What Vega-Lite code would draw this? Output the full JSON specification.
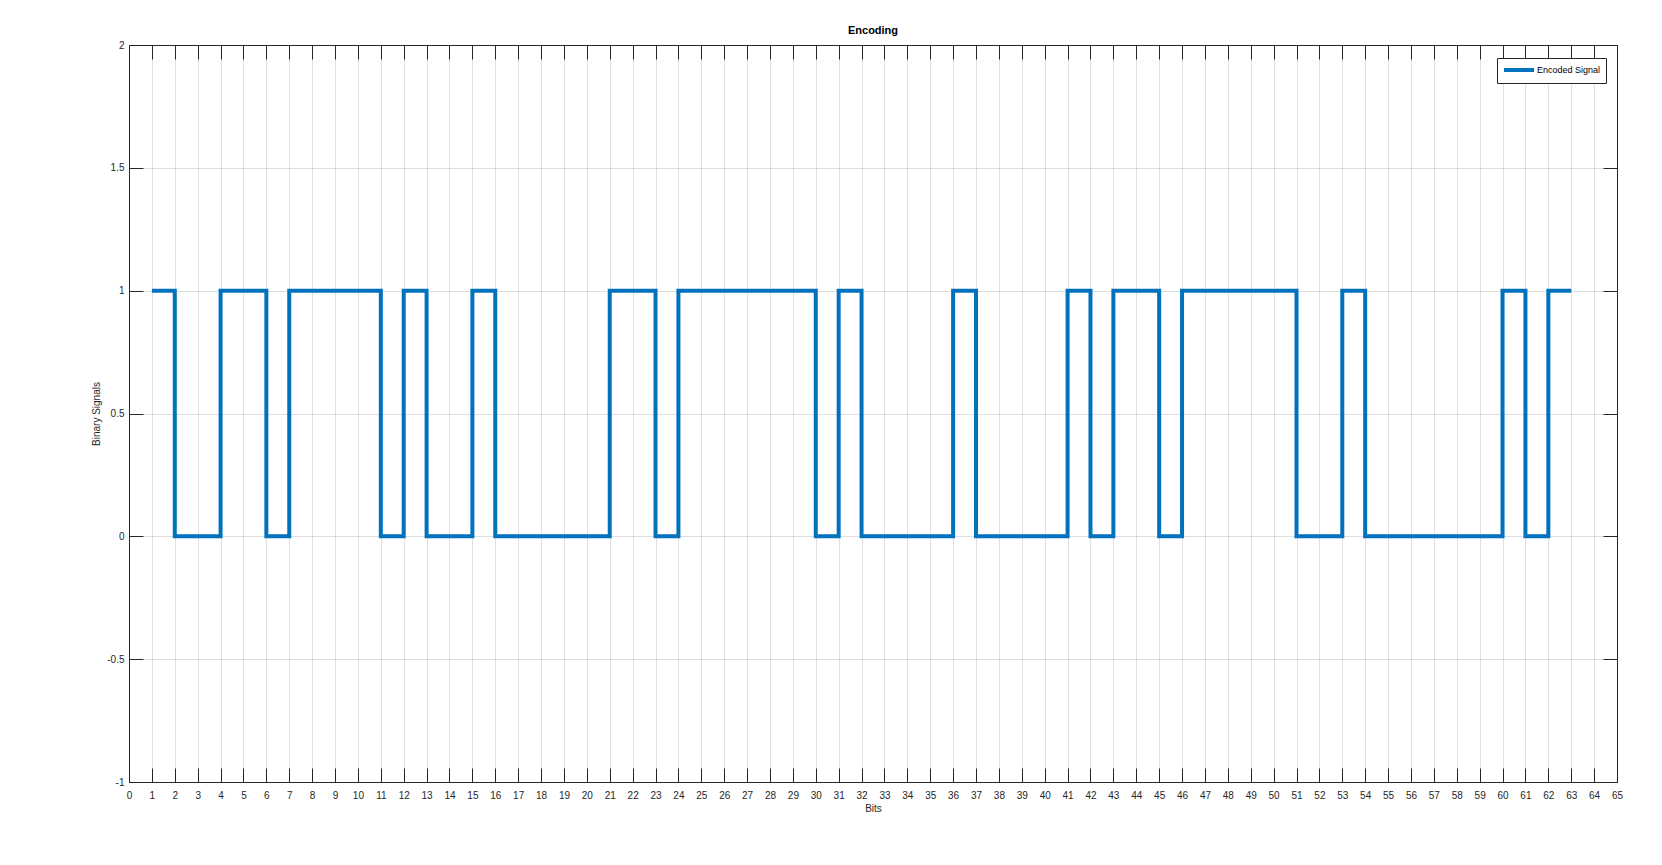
{
  "$schema": "https://vega.github.io/schema/vega-lite/v6.json",
  "width": 1488,
  "height": 737,
  "autosize": {"type": "none"},
  "padding": {"left": 129, "top": 45, "right": 45, "bottom": 83},
  "background": "white",
  "title": {"text": "Encoding", "fontSize": 11, "fontWeight": "bold", "font": "Liberation Sans", "color": "#000000", "offset": 4, "anchor": "middle"},
  "config": {
    "view": {"stroke": "#262626", "strokeWidth": 1},
    "axis": {
      "labelFont": "Liberation Sans",
      "titleFont": "Liberation Sans",
      "labelFontSize": 10,
      "titleFontSize": 10,
      "titleFontWeight": "normal",
      "labelColor": "#262626",
      "titleColor": "#262626",
      "domainColor": "#262626",
      "tickColor": "#262626",
      "gridColor": "#262626",
      "gridOpacity": 0.15,
      "gridWidth": 1,
      "tickSize": -14,
      "labelFlush": false,
      "labelOverlap": false
    },
    "legend": {"labelFont": "Liberation Sans", "labelFontSize": 9, "labelColor": "#000000"}
  },
  "data": {"values": [
    {"x": 1, "v": 1}, {"x": 2, "v": 0}, {"x": 3, "v": 0}, {"x": 4, "v": 1}, {"x": 5, "v": 1},
    {"x": 6, "v": 0}, {"x": 7, "v": 1}, {"x": 8, "v": 1}, {"x": 9, "v": 1}, {"x": 10, "v": 1},
    {"x": 11, "v": 0}, {"x": 12, "v": 1}, {"x": 13, "v": 0}, {"x": 14, "v": 0}, {"x": 15, "v": 1},
    {"x": 16, "v": 0}, {"x": 17, "v": 0}, {"x": 18, "v": 0}, {"x": 19, "v": 0}, {"x": 20, "v": 0},
    {"x": 21, "v": 1}, {"x": 22, "v": 1}, {"x": 23, "v": 0}, {"x": 24, "v": 1}, {"x": 25, "v": 1},
    {"x": 26, "v": 1}, {"x": 27, "v": 1}, {"x": 28, "v": 1}, {"x": 29, "v": 1}, {"x": 30, "v": 0},
    {"x": 31, "v": 1}, {"x": 32, "v": 0}, {"x": 33, "v": 0}, {"x": 34, "v": 0}, {"x": 35, "v": 0},
    {"x": 36, "v": 1}, {"x": 37, "v": 0}, {"x": 38, "v": 0}, {"x": 39, "v": 0}, {"x": 40, "v": 0},
    {"x": 41, "v": 1}, {"x": 42, "v": 0}, {"x": 43, "v": 1}, {"x": 44, "v": 1}, {"x": 45, "v": 0},
    {"x": 46, "v": 1}, {"x": 47, "v": 1}, {"x": 48, "v": 1}, {"x": 49, "v": 1}, {"x": 50, "v": 1},
    {"x": 51, "v": 0}, {"x": 52, "v": 0}, {"x": 53, "v": 1}, {"x": 54, "v": 0}, {"x": 55, "v": 0},
    {"x": 56, "v": 0}, {"x": 57, "v": 0}, {"x": 58, "v": 0}, {"x": 59, "v": 0}, {"x": 60, "v": 1},
    {"x": 61, "v": 0}, {"x": 62, "v": 1}, {"x": 63, "v": 1}
  ]},
  "resolve": {"axis": {"x": "independent", "y": "independent"}},
  "layer": [
    {
      "mark": {"type": "line", "interpolate": "step-after", "strokeWidth": 4, "strokeJoin": "miter", "strokeCap": "butt"},
      "encoding": {
        "x": {"field": "x", "type": "quantitative",
          "scale": {"domain": [0, 65], "nice": false, "zero": false},
          "axis": {"orient": "bottom", "title": "Bits", "grid": true, "labelPadding": 22, "titlePadding": 3,
            "values": [0,1,2,3,4,5,6,7,8,9,10,11,12,13,14,15,16,17,18,19,20,21,22,23,24,25,26,27,28,29,30,31,32,33,34,35,36,37,38,39,40,41,42,43,44,45,46,47,48,49,50,51,52,53,54,55,56,57,58,59,60,61,62,63,64,65]}},
        "y": {"field": "v", "type": "quantitative",
          "scale": {"domain": [-1, 2], "nice": false, "zero": false},
          "axis": {"orient": "left", "title": "Binary Signals", "grid": true, "labelPadding": 19, "titlePadding": 5,
            "values": [-1, -0.5, 0, 0.5, 1, 1.5, 2],
            "labelExpr": "datum.value < 0 ? '-' + format(-datum.value, '~g') : format(datum.value, '~g')"}},
        "color": {"datum": "Encoded Signal", "type": "nominal",
          "scale": {"range": ["#0072BD"]},
          "legend": {"title": null, "orient": "none", "legendX": 1368, "legendY": 13,
            "strokeColor": "#262626", "fillColor": "white", "padding": 5,
            "symbolType": "M-3,0H3", "symbolSize": 100, "symbolStrokeWidth": 4,
            "symbolOffset": 10, "labelOffset": 11}}
      }
    },
    {
      "mark": {"type": "line", "strokeOpacity": 0},
      "encoding": {
        "x": {"field": "x", "type": "quantitative",
          "axis": {"orient": "top", "title": null, "labels": false, "grid": false,
            "values": [0,1,2,3,4,5,6,7,8,9,10,11,12,13,14,15,16,17,18,19,20,21,22,23,24,25,26,27,28,29,30,31,32,33,34,35,36,37,38,39,40,41,42,43,44,45,46,47,48,49,50,51,52,53,54,55,56,57,58,59,60,61,62,63,64,65]}},
        "y": {"field": "v", "type": "quantitative",
          "axis": {"orient": "right", "title": null, "labels": false, "grid": false,
            "values": [-1, -0.5, 0, 0.5, 1, 1.5, 2]}}
      }
    }
  ]
}
